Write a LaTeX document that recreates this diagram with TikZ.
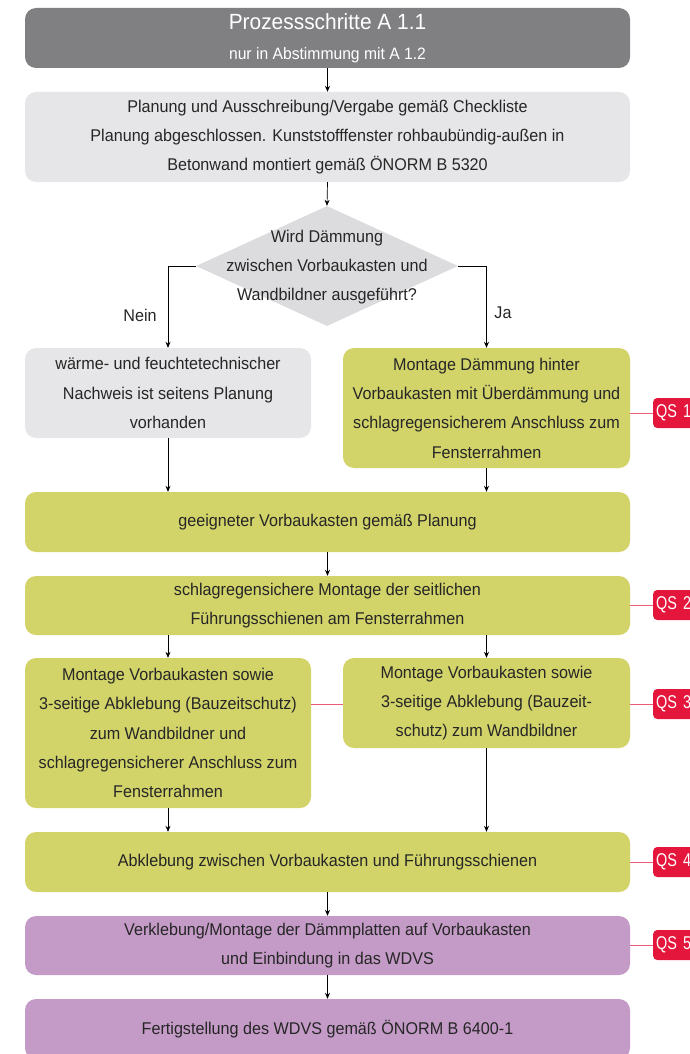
\documentclass[tikz,border=0pt]{standalone}
\usepackage{fontspec}
\setmainfont{Liberation Sans}[FakeStretch=0.95]
\newfontfamily\qsfont{Liberation Sans}[FakeStretch=0.78]
\usetikzlibrary{shapes.geometric,arrows.meta}
\definecolor{hdr}{RGB}{128,128,131}
\definecolor{lgray}{RGB}{230,230,232}
\definecolor{dgray}{RGB}{220,220,222}
\definecolor{olive}{RGB}{210,212,106}
\definecolor{lila}{RGB}{196,155,199}
\definecolor{qsred}{RGB}{228,22,60}
\tikzset{
  box/.style={rounded corners=11pt, inner sep=0pt, align=center, font=\fontsize{17}{29.3}\selectfont, text=black!85},
  arr/.style={-{Stealth[length=6pt,width=5pt]}, line width=0.7pt, black},
  qsbox/.style={fill=qsred, rounded corners=4pt, anchor=west, minimum height=30pt, text=white, font=\qsfont\fontsize{18.5}{22}\selectfont, inner xsep=3pt, text width=60pt, align=left},
  qsline/.style={qsred!70, line width=0.8pt}
}
\begin{document}
\begin{tikzpicture}[x=1pt,y=-1pt]
\useasboundingbox (0,0) rectangle (690,1054);
% header
\node[box, fill=hdr, minimum width=605pt, minimum height=60pt, text=white] (h) at (327.5,38)
  {{\fontsize{22}{24}\selectfont Prozessschritte A 1.1}\\[1pt]{\fontsize{16.5}{18}\selectfont nur in Abstimmung mit A 1.2}};
\node[box, fill=lgray, minimum width=605pt, minimum height=90pt] (b2) at (327.5,137)
  {Planung und Ausschreibung/Vergabe gemäß Checkliste\\Planung abgeschlossen. Kunststofffenster rohbaubündig-außen in\\Betonwand montiert gemäß ÖNORM B 5320};
\node[diamond, fill=dgray, minimum width=262pt, minimum height=120pt, inner sep=0pt] (dia) at (327,266) {};
\node[box] (diat) at (327,267) {Wird Dämmung\\zwischen Vorbaukasten und\\Wandbildner ausgeführt?};
\node[box, fill=lgray, minimum width=286pt, minimum height=90pt] (lb) at (168,393)
  {wärme- und feuchtetechnischer\\Nachweis ist seitens Planung\\vorhanden};
\node[box, fill=olive, minimum width=287pt, minimum height=120pt] (rb) at (486.5,408)
  {Montage Dämmung hinter\\Vorbaukasten mit Überdämmung und\\schlagregensicherem Anschluss zum\\Fensterrahmen};
\node[box, fill=olive, minimum width=605pt, minimum height=60pt] (g) at (327.5,522)
  {geeigneter Vorbaukasten gemäß Planung};
\node[box, fill=olive, minimum width=605pt, minimum height=59pt] (s) at (327.5,605.5)
  {schlagregensichere Montage der seitlichen\\Führungsschienen am Fensterrahmen};
\node[box, fill=olive, minimum width=286pt, minimum height=150pt] (lb2) at (168,733)
  {Montage Vorbaukasten sowie\\3-seitige Abklebung (Bauzeitschutz)\\zum Wandbildner und\\schlagregensicherer Anschluss zum\\Fensterrahmen};
\node[box, fill=olive, minimum width=287pt, minimum height=90pt] (rb2) at (486.5,703)
  {Montage Vorbaukasten sowie\\3-seitige Abklebung (Bauzeit-\\schutz) zum Wandbildner};
\node[box, fill=olive, minimum width=605pt, minimum height=60pt] (a) at (327.5,862)
  {Abklebung zwischen Vorbaukasten und Führungsschienen};
\node[box, fill=lila, minimum width=605pt, minimum height=59pt] (v) at (327.5,945.5)
  {Verklebung/Montage der Dämmplatten auf Vorbaukasten\\und Einbindung in das WDVS};
\node[box, fill=lila, minimum width=605pt, minimum height=60pt] (f) at (327.5,1029)
  {Fertigstellung des WDVS gemäß ÖNORM B 6400-1};
% labels
\node[font=\fontsize{17}{19}\selectfont, text=black!85] (nein) at (140,315) {Nein};
\node[font=\fontsize{17}{19}\selectfont, text=black!85] (ja) at (503,313) {Ja};
% QS
\node[qsbox] (qs1) at (653,413) {QS 1};
\node[qsbox] (qs2) at (653,605) {QS 2};
\node[qsbox] (qs3) at (653,704) {QS 3};
\node[qsbox] (qs4) at (653,862) {QS 4};
\node[qsbox] (qs5) at (653,945) {QS 5};
\draw[qsline] (qs1.west -| rb.east) -- (qs1.west);
\draw[qsline] (qs2.west -| s.east) -- (qs2.west);
\draw[qsline] (qs3.west -| rb2.east) -- (qs3.west);
\draw[qsline] (qs3.west -| lb2.east) -- (qs3.west -| rb2.west);
\draw[qsline] (qs4.west -| a.east) -- (qs4.west);
\draw[qsline] (qs5.west -| v.east) -- (qs5.west);
% arrows
\draw[arr] (h.south) -- (b2.north);
\draw[arr] (b2.south) -- (dia.north);
\draw[arr] (dia.west) -| (lb.north);
\draw[arr] (dia.east) -| (rb.north);
\draw[arr] (lb.south) -- (lb.south |- g.north);
\draw[arr] (rb.south) -- (rb.south |- g.north);
\draw[arr] (g.south) -- (s.north);
\draw[arr] (s.south -| lb2.north) -- (lb2.north);
\draw[arr] (s.south -| rb2.north) -- (rb2.north);
\draw[arr] (lb2.south) -- (lb2.south |- a.north);
\draw[arr] (rb2.south) -- (rb2.south |- a.north);
\draw[arr] (a.south) -- (v.north);
\draw[arr] (v.south) -- (f.north);
\end{tikzpicture}
\end{document}
